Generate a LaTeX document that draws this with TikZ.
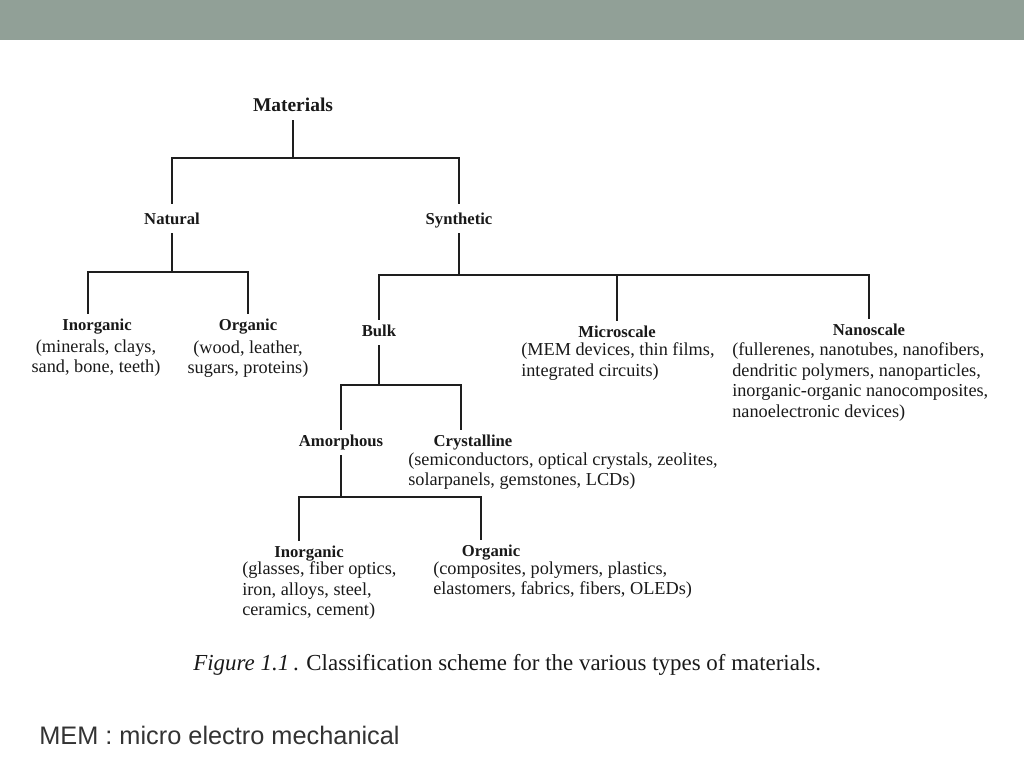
\documentclass[tikz,border=0pt]{standalone}
\usepackage{fontspec}
\setmainfont{Liberation Serif}
\newfontfamily\notefont{Liberation Sans}
\usepackage{tikz}
\usetikzlibrary{positioning}
\definecolor{bandgray}{RGB}{145,160,151}
\definecolor{linegray}{RGB}{30,30,30}
\definecolor{notegray}{RGB}{51,51,51}

\begin{document}
\begin{tikzpicture}[x=0.75pt,y=-0.75pt]
		\useasboundingbox (0,0) rectangle (1024,768);
		\fill[bandgray] (0,0) rectangle (1024,40);
		\tikzstyle{HeadStyle}=[font=\bfseries\fontsize{12.5}{14}\selectfont,inner xsep=0pt,inner ysep=4.5pt,
			text height=0.7em,text depth=0.22em,anchor=base,text=black!90]
		\tikzstyle{InfoStyle}=[font=\fontsize{13.7}{15.4}\selectfont,inner sep=0pt,text=black!90]
		\tikzstyle{BranchStyle}=[line width=1.5pt,color=linegray]
		% headings
		\node[HeadStyle,font=\bfseries\fontsize{14.6}{16}\selectfont] (materials) at (293,111) {Materials};
		\node[HeadStyle] (natural) at (172,224) {Natural};
		\node[HeadStyle] (synthetic) at (459,224) {Synthetic};
		\node[HeadStyle] (natinorg) at (97,330) {Inorganic};
		\node[HeadStyle] (natorg) at (248,330) {Organic};
		\node[HeadStyle] (bulk) at (379,336) {Bulk};
		\node[HeadStyle] (micro) at (617,337) {Microscale};
		\node[HeadStyle] (nano) at (869,335) {Nanoscale};
		\node[HeadStyle] (amorph) at (341,446) {Amorphous};
		\node[HeadStyle] (cryst) at (473,446) {Crystalline};
		\node[HeadStyle] (bulkinorg) at (309,557) {Inorganic};
		\node[HeadStyle] (bulkorg) at (491,556) {Organic};
		% examples
		\node[InfoStyle,anchor=north,align=center] (natinorgtxt) at (96,339.5)
			{(minerals, clays,\\sand, bone, teeth)};
		\node[InfoStyle,anchor=north,align=center] (natorgtxt) at (248,340.5)
			{(wood, leather,\\sugars, proteins)};
		\node[InfoStyle,anchor=north west,align=left] (microtxt) at (521,342.5)
			{(MEM devices, thin films,\\integrated circuits)};
		\node[InfoStyle,anchor=north west,align=left] (nanotxt) at (732,342.5)
			{(fullerenes, nanotubes, nanofibers,\\dendritic polymers, nanoparticles,\\
			inorganic-organic nanocomposites,\\nanoelectronic devices)};
		\node[InfoStyle,anchor=north west,align=left] (crysttxt) at (408,452.5)
			{(semiconductors, optical crystals, zeolites,\\solarpanels, gemstones, LCDs)};
		\node[InfoStyle,anchor=north west,align=left] (bulkinorgtxt) at (242,561.5)
			{(glasses, fiber optics,\\iron, alloys, steel,\\ceramics, cement)};
		\node[InfoStyle,anchor=north west,align=left] (bulkorgtxt) at (433,561.5)
			{(composites, polymers, plastics,\\elastomers, fabrics, fibers, OLEDs)};
		% branches
		\coordinate (jmat) at (293,158);
		\coordinate (jnat) at (172,272);
		\coordinate (jsyn) at (459,275);
		\coordinate (jbulk) at (379,385);
		\coordinate (jamo) at (341,497);
		\draw[BranchStyle] (materials) -- (jmat);
		\draw[BranchStyle] (jmat) -| ([yshift=3pt]natural.north);
		\draw[BranchStyle] (jmat) -| ([yshift=3pt]synthetic.north);
		\draw[BranchStyle] (natural) -- (jnat);
		\draw[BranchStyle] (jnat) -| ([xshift=-6.75pt]natinorg.north);
		\draw[BranchStyle] (jnat) -| (natorg);
		\draw[BranchStyle] (synthetic) -- (jsyn);
		\draw[BranchStyle] (jsyn) -| (bulk);
		\draw[BranchStyle] (jsyn) -| (micro);
		\draw[BranchStyle] (jsyn) -| (nano);
		\draw[BranchStyle] (bulk) -- (jbulk);
		\draw[BranchStyle] (jbulk) -| (amorph);
		\draw[BranchStyle] (jbulk) -| ([xshift=-9pt]cryst.north);
		\draw[BranchStyle] (amorph) -- (jamo);
		\draw[BranchStyle] (jamo) -| ([xshift=-7.5pt]bulkinorg.north);
		\draw[BranchStyle] (jamo) -| ([xshift=-7.5pt]bulkorg.north);
		% caption and note
		\node[anchor=base west,inner sep=0pt,font=\fontsize{17.2}{20}\selectfont,text=black!90] (caption) at (193,670)
			{\textit{Figure 1.1}\,. Classification scheme for the various types of materials.};
		\node[anchor=base west,inner sep=0pt,font=\notefont\fontsize{19}{22}\selectfont,text=notegray] (memnote) at (39,744)
			{MEM : micro electro mechanical};
	\end{tikzpicture}
\end{document}
